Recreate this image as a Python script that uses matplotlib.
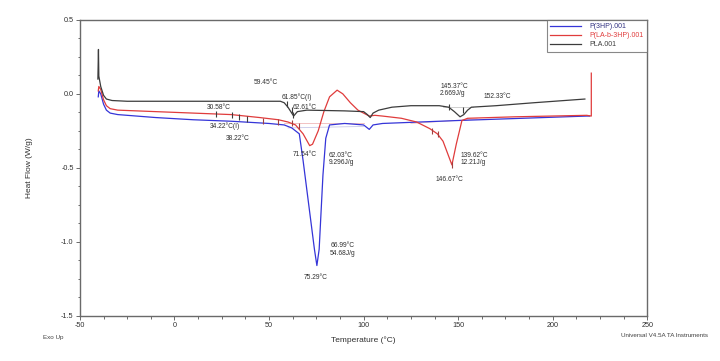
import matplotlib
matplotlib.use("Agg")
import matplotlib.pyplot as plt
from matplotlib.ticker import MultipleLocator, AutoMinorLocator, FormatStrFormatter

plt.rcParams["font.family"] = ["Liberation Sans", "DejaVu Sans"]
plt.rcParams["axes.unicode_minus"] = False

# ---- data ----
t_3hp = [-40.3, -40.0, -39.0, -37.5, -36.0, -34.0, -30.0, -10.0, 10.0, 30.0, 50.0, 58.0,
         62.0, 66.0, 68.0, 70.0, 72.0, 74.0, 75.3, 76.5, 77.5, 78.5, 80.0, 82.0, 90.0,
         100.0, 103.0, 105.0, 110.0, 150.0, 218.0, 219.5]
hf_3hp = [-0.02, 0.02, 0.0, -0.07, -0.11, -0.13, -0.14, -0.16, -0.175, -0.185, -0.2, -0.21,
          -0.23, -0.27, -0.45, -0.65, -0.85, -1.05, -1.16, -1.05, -0.8, -0.55, -0.3, -0.21, -0.2,
          -0.21, -0.24, -0.21, -0.2, -0.18, -0.15, -0.15]

t_lab = [-40.3, -40.0, -39.0, -37.5, -36.0, -34.0, -30.0, -10.0, 10.0, 30.0, 45.0, 55.0,
         60.0, 64.0, 68.0, 71.5, 73.0, 76.0, 79.0, 82.0, 86.0, 89.0, 93.0, 97.0, 100.0,
         103.0, 106.0, 110.0, 120.0, 128.0, 135.0, 139.0, 142.0, 146.7, 149.0, 152.0,
         155.0, 180.0, 218.0, 220.4, 220.4]
hf_lab = [0.02, 0.05, 0.03, -0.04, -0.08, -0.10, -0.11, -0.12, -0.13, -0.14, -0.16, -0.175,
          -0.19, -0.21, -0.27, -0.35, -0.34, -0.25, -0.12, -0.02, 0.025, 0.0, -0.06, -0.11, -0.13,
          -0.15, -0.145, -0.15, -0.165, -0.19, -0.235, -0.27, -0.32, -0.48, -0.34, -0.18,
          -0.165, -0.155, -0.145, -0.15, 0.14]

t_pla = [-40.5, -40.2, -40.0, -39.0, -37.5, -36.0, -33.0, -25.0, 0.0, 30.0, 50.0, 56.0,
         58.0, 60.0, 62.0, 63.0, 65.0, 70.0, 90.0, 100.0, 102.0, 103.5, 105.0, 108.0, 115.0,
         125.0, 140.0, 145.0, 148.0, 151.0, 153.0, 155.0, 157.0, 170.0, 190.0, 217.0]
hf_pla = [0.10, 0.30, 0.12, 0.05, -0.01, -0.035, -0.045, -0.05, -0.05, -0.05, -0.05, -0.05,
          -0.06, -0.09, -0.13, -0.15, -0.12, -0.11, -0.115, -0.12, -0.14, -0.16, -0.13, -0.11, -0.09,
          -0.08, -0.08, -0.09, -0.12, -0.155, -0.14, -0.11, -0.09, -0.08, -0.06, -0.035]

# analysis cursor marks (temperature, heat flow)
mk_pla_t = [22.0, 30.5, 34.2, 38.2, 59.5, 61.9, 62.6, 145.4, 152.3]
mk_pla_hf = [-0.135, -0.14, -0.155, -0.17, -0.07, -0.11, -0.14, -0.09, -0.11]
mk_lab_t = [47.0, 55.0, 62.0, 66.0, 136.0, 139.6, 146.7]
mk_lab_hf = [-0.18, -0.19, -0.2, -0.22, -0.25, -0.27, -0.48]

annots = [
    ("59.45°C", 42.0, 0.074),
    ("61.85°C(I)", 56.9, -0.02),
    ("62.61°C", 62.7, -0.09),
    ("30.58°C", 17.2, -0.095),
    ("34.22°C(I)", 18.8, -0.216),
    ("38.22°C", 27.2, -0.30),
    ("71.54°C", 62.7, -0.41),
    ("62.03°C\n9.296J/g", 81.7, -0.44),
    ("66.99°C\n54.68J/g", 82.3, -1.05),
    ("75.29°C", 68.5, -1.24),
    ("145.37°C\n2.669J/g", 140.5, 0.027),
    ("152.33°C", 163.2, -0.02),
    ("139.62°C\n12.21J/g", 151.0, -0.44),
    ("146.67°C", 137.8, -0.58),
]

C_BLUE = "#3535d8"
C_RED = "#e03c3c"
C_BLK = "#3c3c3c"
AX_COL = "#6a6a6a"

fig = plt.figure(figsize=(7.2, 3.61), dpi=100)
ax = fig.add_axes([0.111, 0.125, 0.788, 0.820])

# faint baseline construction lines
ax.plot([58.0, 100.0], [-0.2, -0.2], color="#f0b8b8", lw=0.6)
ax.plot([60.0, 100.0], [-0.23, -0.22], color="#c8c8e8", lw=0.6)
ax.plot([125.0, 160.0], [-0.2, -0.17], color="#f0c0c0", lw=0.6)
ax.plot([142.0, 158.0], [-0.09, -0.09], color="#c8c8c8", lw=0.6)

ax.plot(t_3hp, hf_3hp, color=C_BLUE, lw=0.9, label="P(3HP).001")
ax.plot(t_lab, hf_lab, color=C_RED, lw=0.9, label="P(LA-b-3HP).001")
ax.plot(t_pla, hf_pla, color=C_BLK, lw=0.9, label="PLA.001")

ax.plot(mk_pla_t, mk_pla_hf, ls="none", marker="|", ms=4, mew=0.8, color=C_BLK)
ax.plot(mk_lab_t, mk_lab_hf, ls="none", marker="|", ms=4, mew=0.8, color="#a04040")

for txt, x, y in annots:
    ax.text(x, y, txt, fontsize=4.8, color="#303030", ha="left", va="center",
            linespacing=1.1)

ax.set_xlim(-50, 250)
ax.set_ylim(-1.5, 0.5)
ax.xaxis.set_major_locator(MultipleLocator(50))
ax.yaxis.set_major_locator(MultipleLocator(0.5))
ax.xaxis.set_minor_locator(AutoMinorLocator(4))
ax.yaxis.set_minor_locator(AutoMinorLocator(4))
ax.yaxis.set_major_formatter(FormatStrFormatter("%.1f"))
ax.tick_params(which="both", direction="out", colors=AX_COL, labelcolor="#303030",
               labelsize=5.2, width=0.7, pad=1.5)
ax.tick_params(which="major", length=3)
ax.tick_params(which="minor", length=1.8)
for s in ax.spines.values():
    s.set_color(AX_COL)
    s.set_linewidth(1.0)

ax.set_xlabel("Temperature (°C)", fontsize=6, color="#303030", labelpad=5)
ax.set_ylabel("Heat Flow (W/g)", fontsize=6, color="#303030", labelpad=20)

leg = ax.legend(loc="upper right", fontsize=5, frameon=True, fancybox=False,
                borderaxespad=0.0, handlelength=4.5, handletextpad=1.2,
                labelspacing=0.3, borderpad=0.5, edgecolor=AX_COL)
leg.get_frame().set_linewidth(0.8)
for t, c in zip(leg.get_texts(), ["#303080", C_RED, C_BLK]):
    t.set_color(c)

fig.text(0.06, 0.066, "Exo Up", fontsize=4.5, color="#404040", ha="left", va="center")
fig.text(0.983, 0.07, "Universal V4.5A TA Instruments", fontsize=4.5, color="#404040",
         ha="right", va="center")

fig.savefig("out.png", dpi=100, facecolor="white")
